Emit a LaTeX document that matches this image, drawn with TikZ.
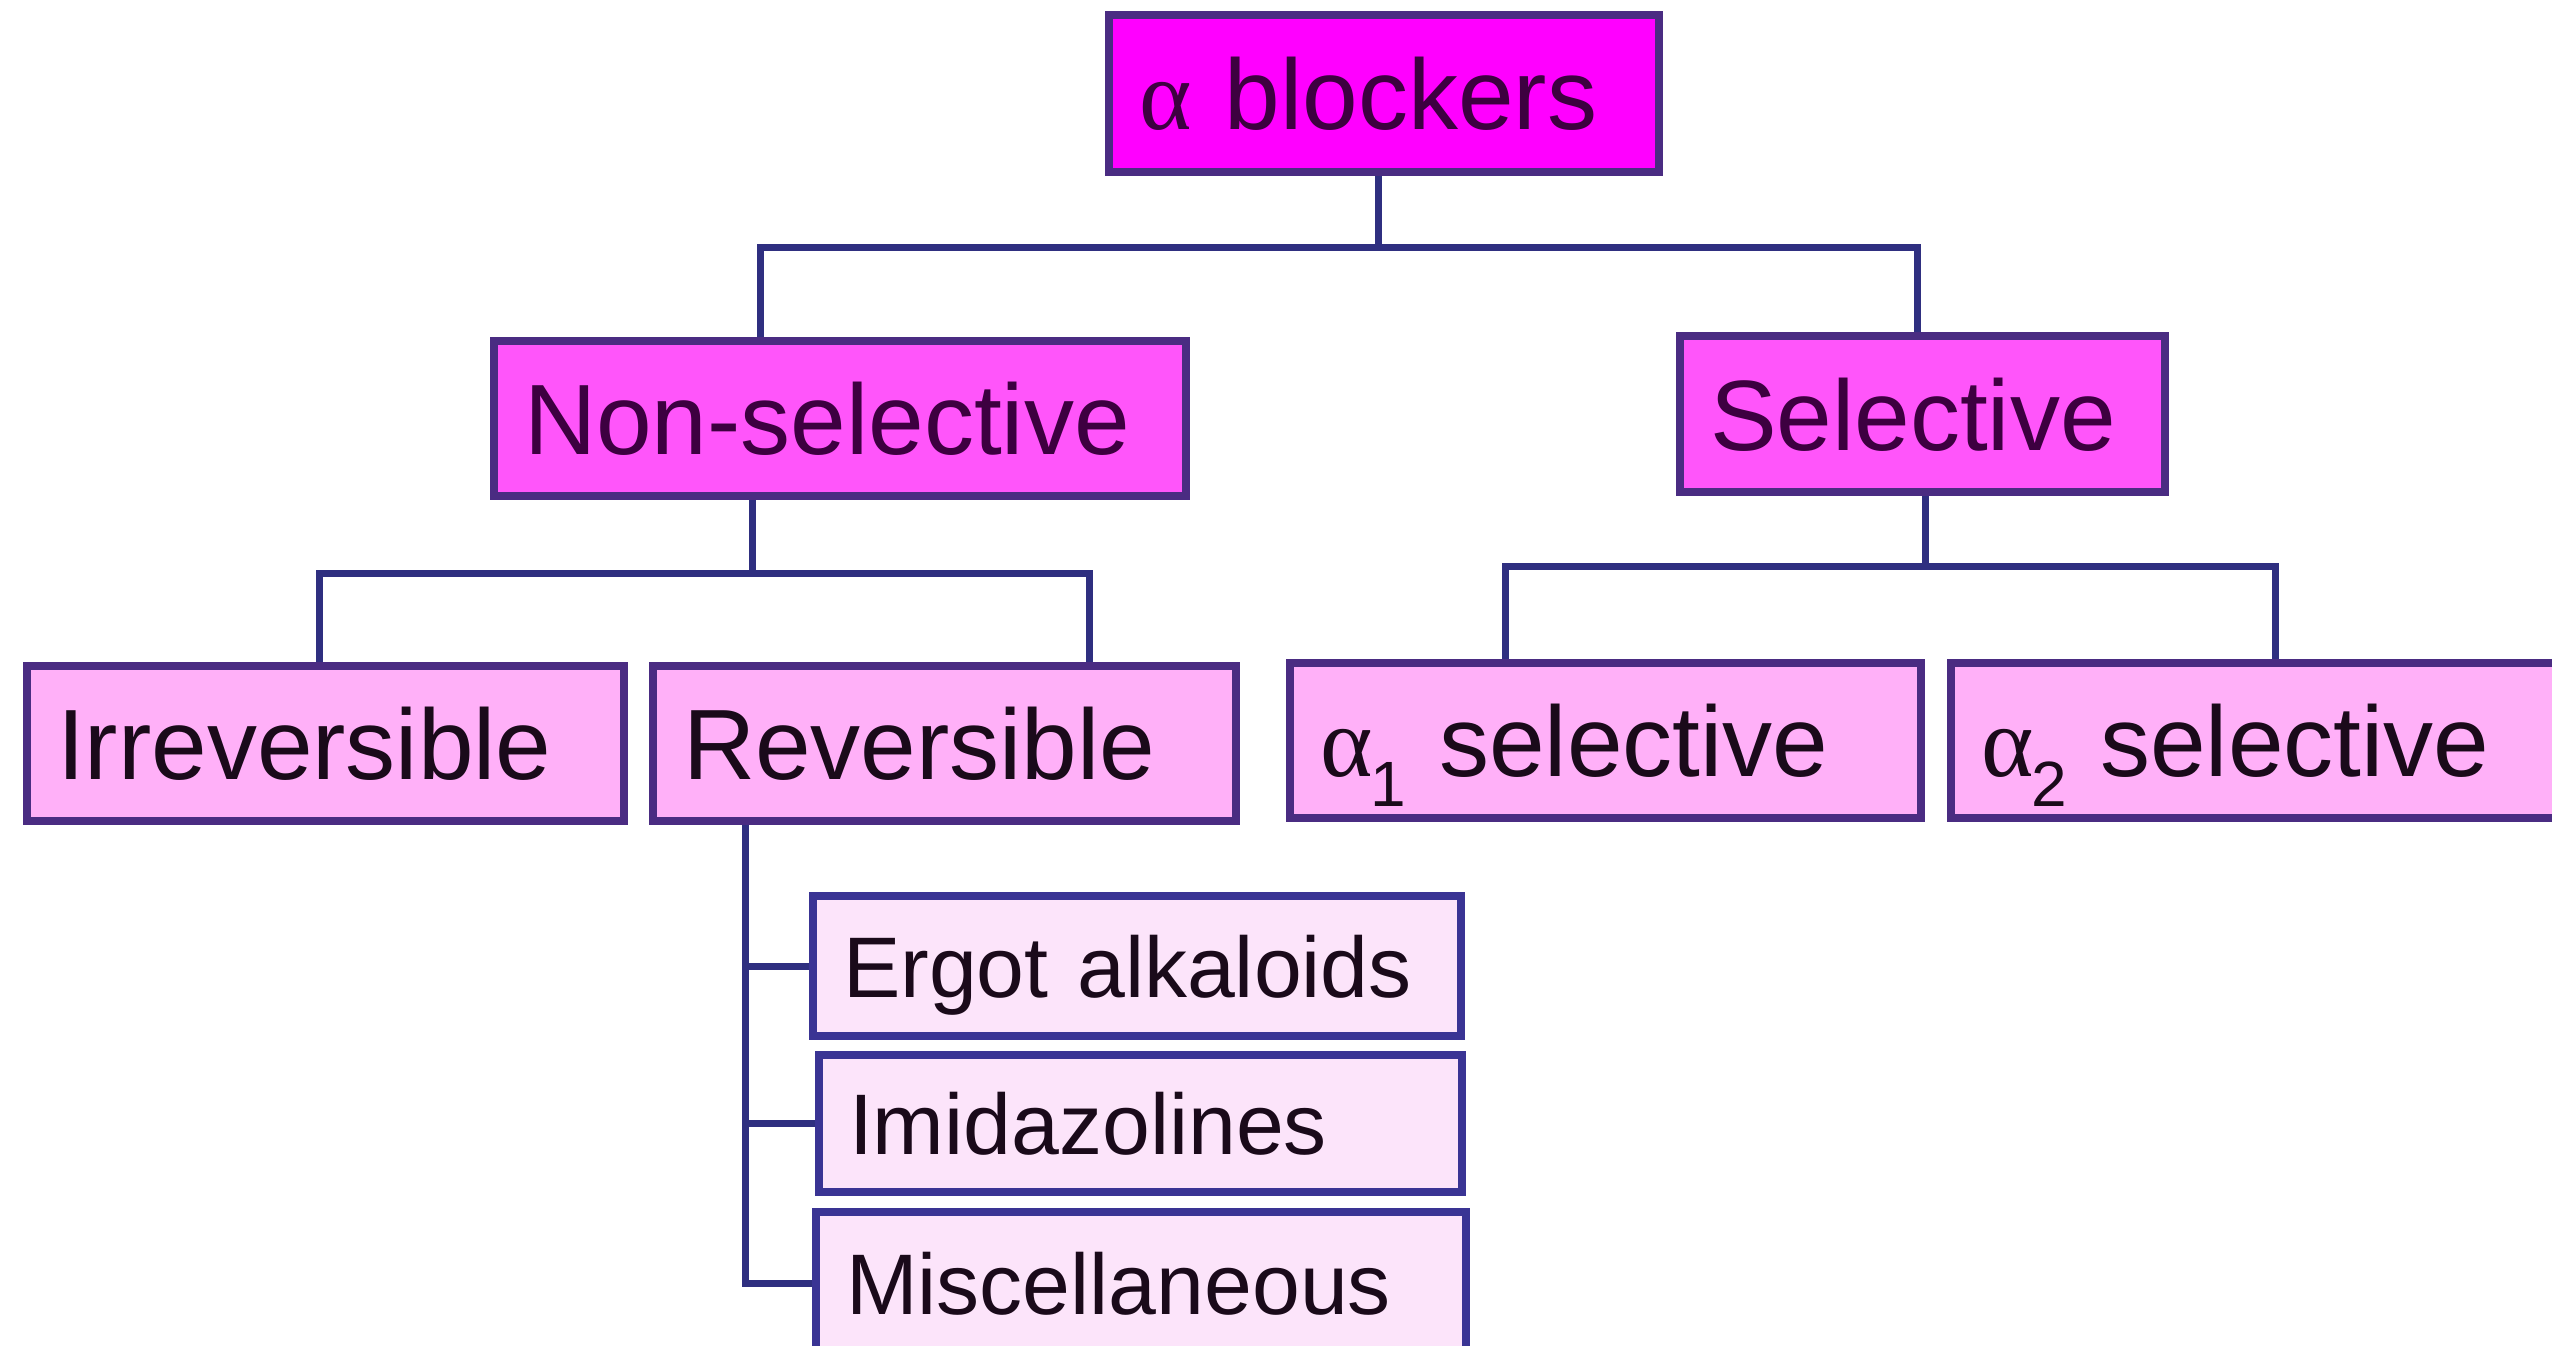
\documentclass[tikz,border=0pt]{standalone}
\usepackage{fontspec}
\setmainfont{Liberation Sans}
\newfontfamily\greekfont{Liberation Serif}
\definecolor{topfill}{HTML}{FF00FF}
\definecolor{midfill}{HTML}{FF55FA}
\definecolor{lowfill}{HTML}{FFB0F8}
\definecolor{leaffill}{HTML}{FCE4FA}
\definecolor{boxline}{HTML}{4A2C82}
\definecolor{leafline}{HTML}{3A3494}
\definecolor{wire}{HTML}{2F2F80}
\definecolor{toptext}{HTML}{3D0040}
\definecolor{bodytext}{HTML}{1A0A1A}
\newcommand\alp{{\greekfont α}}
\newcommand\sbs[1]{\kern-2pt\raisebox{-0.3em}{\fontsize{64}{64}\selectfont #1}}
\begin{document}
\begin{tikzpicture}[x=1pt,y=-1pt,
  box/.style={draw=boxline,line width=8pt,anchor=north west,inner xsep=30pt,inner ysep=0pt,
    align=left,text depth=0pt,text height=72pt,font=\fontsize{100}{110}\selectfont,text=bodytext},
  lvlone/.style={box,fill=topfill,text=toptext},
  lvltwo/.style={box,fill=midfill,text=toptext},
  lvlthree/.style={box,fill=lowfill},
  leaf/.style={box,fill=leaffill,draw=leafline,text height=62pt,font=\fontsize{86}{95}\selectfont},
  wirestyle/.style={draw=wire,line width=7pt}]
\useasboundingbox (0,0) rectangle (2552,1345);
\fill[white] (0,0) rectangle (2552,1345);
\clip (0,0) rectangle (2552,1345);

\coordinate (b1) at (1378,247);
\coordinate (b2) at (752,573);
\coordinate (b3) at (1925,566);
\coordinate (v4) at (745,1283);

\node[lvlone,text width=490pt,minimum height=157pt] (root) at (1105,11) {\alp\ blockers};
\node[lvltwo,text width=632pt,minimum height=155pt] (nonsel) at (490,337) {Non-selective};
\node[lvltwo,text width=425pt,minimum height=156pt] (sel) at (1676,332) {Selective};
\node[lvlthree,text width=537pt,minimum height=155pt] (irr) at (23,662) {Irreversible};
\node[lvlthree,text width=523pt,minimum height=155pt] (rev) at (649,662) {Reversible};
\node[lvlthree,text width=571pt,minimum height=155pt] (aone) at (1286,659) {\alp\sbs{1} selective};
\node[lvlthree,text width=573pt,minimum height=155pt] (atwo) at (1947,659) {\alp\sbs{2} selective};
\node[leaf,text width=588pt,minimum height=140pt] (ergot) at (809,892) {Ergot alkaloids};
\node[leaf,text width=583pt,minimum height=137pt] (imid) at (815,1051) {Imidazolines};
\node[leaf,text width=590pt,minimum height=142pt] (misc) at (812,1208) {Miscellaneous};

\begin{scope}[wirestyle]
\draw (root.south -| b1) -- (b1);
\draw (nonsel.north -| 760,0) |- (b1) -| (sel.north -| 1917,0);
\draw (nonsel.south -| b2) -- (b2);
\draw (irr.north -| 319,0) |- (b2) -| (rev.north -| 1089,0);
\draw (sel.south -| b3) -- (b3);
\draw (aone.north -| 1505,0) |- (b3) -| (atwo.north -| 2275,0);
\draw (rev.south -| v4) -- (v4) -- (misc.west |- v4);
\draw (v4 |- ergot.west) -- (ergot.west);
\draw (v4 |- imid.west) -- (imid.west);
\end{scope}
\end{tikzpicture}
\end{document}
